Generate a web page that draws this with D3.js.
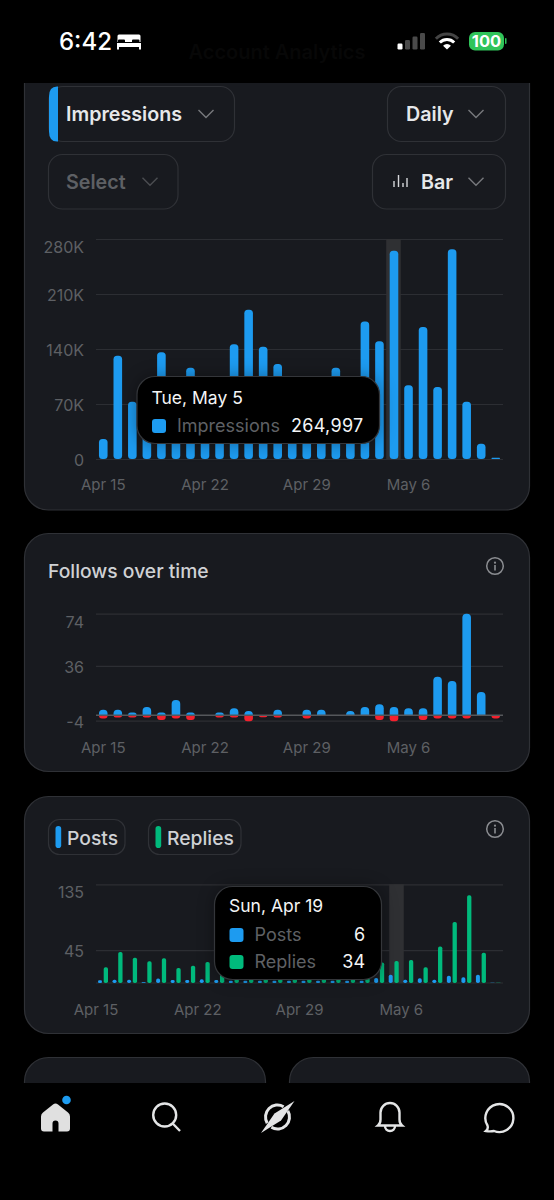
<!DOCTYPE html>
<html>
<head>
<meta charset="utf-8">
<script src="https://cdn.jsdelivr.net/npm/d3@7"></script>
<style>
html, body { margin: 0; padding: 0; background: #000; }
svg { display: block; }
text { font-family: Inter, "Noto Sans", sans-serif; }
</style>
</head>
<body>
<svg id="chart"></svg>
<script>
var width = 554;
var height = 1200;

// Apr 15 .. May 12
var days = ['Apr 15','Apr 16','Apr 17','Apr 18','Apr 19','Apr 20','Apr 21','Apr 22','Apr 23','Apr 24',
    'Apr 25','Apr 26','Apr 27','Apr 28','Apr 29','Apr 30','May 1','May 2','May 3','May 4',
    'May 5','May 6','May 7','May 8','May 9','May 10','May 11','May 12'];
var tickDays = ['Apr 15','Apr 22','Apr 29','May 6'];

// values behind the tooltips are estimates
var impressions = [25500,131500,73000,60000,136000,70000,116000,60000,70000,146000,
    190000,143000,121000,60000,70000,55000,116000,60000,175000,150000,
    264997,94000,168000,91600,267000,73000,19500,1700];
var impressionTicks = [0,70000,140000,210000,280000];

var followsGained = [4,4,2,6,2,11,2,0,2,5,3,0,4,0,4,4,0,3,6,8,6,5,5,28,25,74,17,0];
var followsLost = [-2.4,-1.7,-1.7,-1.7,-3.4,-2.4,-3.4,0,-1.7,-1.7,-4.4,-1.5,-1.7,0,-2.4,0,0,0,0,-3.4,-4.4,0,-3.4,-2.4,-2.4,-2.4,0,-2.4];
var followTicks = [-4,36,74];

var posts = [3.6,4.5,4.5,1,6,4,4,5,4,3,3,3,3,3,3,3,3,3,3,7,11.4,4.5,6.4,4.5,10,8,11.4,0.5];
var replies = [21.5,42.5,34.7,29.7,34,20.5,23.7,28.8,30,22,20,24,22,20,24,20,22,20,22,28,30,31.5,21.5,50,83.6,120,41.5,0.5];
var contentTicks = [45,135];

var BLUE = '#1d9bf0', RED = '#f4212e', GREEN = '#00ba7c';
var CARD = '#181a1f', LINE = '#2f3136', MUTED = '#5e6064', SOFT = '#cfd1d4';

var svg = d3.select('#chart').attr('width', width).attr('height', height);
svg.append('rect').attr('width', width).attr('height', height).attr('fill', '#000');

var x = d3.scaleBand().domain(days).range([96, 503]);

// ----- cards
function card(xx, y, w, h) {
    svg.append('rect').attr('x', xx).attr('y', y).attr('width', w).attr('height', h)
        .attr('rx', 24).attr('fill', CARD).attr('stroke', LINE).attr('stroke-width', 1.2);
}
card(24.5, 40, 505, 470);
card(24.5, 533.5, 505, 238);
card(24.5, 796.5, 505, 237);
card(24.5, 1057.5, 241, 80);
card(289.5, 1057.5, 240, 80);

// header and tab bar sit over the cards
svg.append('rect').attr('width', width).attr('height', 83).attr('fill', '#000');
svg.append('rect').attr('y', 1083).attr('width', width).attr('height', 117).attr('fill', '#000');
svg.append('text').attr('x', 277).attr('y', 59).attr('text-anchor', 'middle')
    .attr('font-size', 20).attr('font-weight', 600).attr('fill', '#070707').text('Account Analytics');

// ----- status bar
svg.append('text').attr('x', 59).attr('y', 49.5).attr('font-size', 24).attr('font-weight', 500)
    .attr('fill', '#fff').text('6:42');
svg.append('path').attr('fill', '#fff')
    .attr('d', 'M119 34.5h20a1.5 1.5 0 0 1 1.5 1.5v6h-1v-1.5q0-1-1-1h-5.5q-1 0-1 1v1.5h-7v-1.5q0-1-1-1h-5q-1 0-1 1v1.5h-.5v-6a1.5 1.5 0 0 1 1.5-1.5zM117 43h24v6.5h-2v-2.5h-20v2.5h-2z');
[[397.5, 43.5, 5, 6, '#fff'], [405, 40, 5, 9.5, '#4a4a4a'], [412.5, 36.5, 5, 13, '#4a4a4a'], [420, 33, 5, 16.5, '#4a4a4a']]
    .forEach(function(b) {
        svg.append('rect').attr('x', b[0]).attr('y', b[1]).attr('width', b[2]).attr('height', b[3])
            .attr('rx', 1.2).attr('fill', b[4]);
    });
[[17, '#444'], [11.5, '#fff']].forEach(function(w) {
    var arc = d3.arc().innerRadius(w[0] - 3).outerRadius(w[0]).startAngle(-0.8).endAngle(0.8);
    svg.append('path').attr('transform', 'translate(447,49.5)').attr('fill', w[1]).attr('d', arc());
});
svg.append('path').attr('transform', 'translate(447,49.5)').attr('fill', '#fff')
    .attr('d', d3.arc().innerRadius(0).outerRadius(5.5).startAngle(-0.8).endAngle(0.8)());
svg.append('rect').attr('x', 469).attr('y', 32).attr('width', 35).attr('height', 18.5).attr('rx', 6).attr('fill', '#30c45a');
svg.append('rect').attr('x', 505).attr('y', 38).attr('width', 1.5).attr('height', 6).attr('rx', 0.7).attr('fill', '#30c45a');
svg.append('text').attr('x', 486.5).attr('y', 47.3).attr('text-anchor', 'middle').attr('font-size', 16.5)
    .attr('font-weight', 700).attr('fill', '#fff').text('100');

// ----- dropdowns
function chevron(cx, cy, col) {
    svg.append('path').attr('d', 'M' + (cx - 7.5) + ' ' + (cy - 4) + 'L' + cx + ' ' + (cy + 3.5) + 'L' + (cx + 7.5) + ' ' + (cy - 4))
        .attr('fill', 'none').attr('stroke', col).attr('stroke-width', 1.4);
}
function dropdown(x0, x1, y0, y1, label, tx, cx, col) {
    svg.append('rect').attr('x', x0).attr('y', y0).attr('width', x1 - x0).attr('height', y1 - y0)
        .attr('rx', 14).attr('fill', 'none').attr('stroke', LINE).attr('stroke-width', 1.2);
    svg.append('text').attr('x', tx).attr('y', (y0 + y1) / 2 + 7).attr('font-size', 19.7).attr('font-weight', 600)
        .attr('fill', col).text(label);
    chevron(cx, (y0 + y1) / 2, col === MUTED ? '#4c4e52' : '#77797d');
}
dropdown(49, 234.5, 86.5, 141.5, 'Impressions', 66, 206, '#e6e8ea');
svg.append('path').attr('fill', BLUE)
    .attr('d', 'M58 86.5v55h-1q-8 0-8-10v-35q0-10 8-10z');
dropdown(387.5, 505.5, 86.5, 141.5, 'Daily', 406, 476, '#e6e8ea');
dropdown(48.5, 178, 154.5, 209, 'Select', 66, 150, MUTED);
dropdown(372.5, 505.5, 154.5, 209, 'Bar', 421, 476, '#e6e8ea');
[[394, 181, 187], [398.5, 175, 187], [403, 183, 187], [407, 178, 187]].forEach(function(b) {
    svg.append('line').attr('x1', b[0]).attr('x2', b[0]).attr('y1', b[1]).attr('y2', b[2])
        .attr('stroke', '#d5d7da').attr('stroke-width', 1.4);
});

// ----- axes
function fmtK(d) { return d === 0 ? '0' : (d / 1000) + 'K'; }

function drawYAxis(y, ticks, fmt) {
    var top = d3.max(ticks);
    var g = svg.append('g').attr('transform', 'translate(96,0)')
        .call(d3.axisLeft(y).tickValues(ticks).tickSize(-407).tickPadding(12).tickFormat(fmt));
    g.select('.domain').remove();
    g.selectAll('line').attr('stroke', '#2c2e33').attr('stroke-width', 1.2);
    g.selectAll('text').attr('fill', MUTED).attr('font-size', 16)
        .attr('dy', function(d) { return d === top ? 13.5 : 6.3; });
}

function drawXAxis(yPos, shift) {
    var g = svg.append('g').attr('transform', 'translate(' + shift + ',' + yPos + ')')
        .call(d3.axisBottom(x).tickValues(tickDays).tickSize(0).tickPadding(0));
    g.select('.domain').remove();
    g.selectAll('text').attr('fill', MUTED).attr('font-size', 15).attr('dy', 0);
}

// top rounded / bottom rounded bars
function barUp(xx, yy, w, base, r) {
    r = Math.min(r, (base - yy));
    return 'M' + xx + ' ' + base + 'V' + (yy + r) + 'Q' + xx + ' ' + yy + ' ' + (xx + r) + ' ' + yy +
        'H' + (xx + w - r) + 'Q' + (xx + w) + ' ' + yy + ' ' + (xx + w) + ' ' + (yy + r) + 'V' + base + 'Z';
}
function barDown(xx, yy, w, base, r) {
    r = Math.min(r, (yy - base));
    return 'M' + xx + ' ' + base + 'V' + (yy - r) + 'Q' + xx + ' ' + yy + ' ' + (xx + r) + ' ' + yy +
        'H' + (xx + w - r) + 'Q' + (xx + w) + ' ' + yy + ' ' + (xx + w) + ' ' + (yy - r) + 'V' + base + 'Z';
}

// ----- impressions
var yImp = d3.scaleLinear().domain([0, 280000]).range([459, 239]);
drawYAxis(yImp, impressionTicks, fmtK);
drawXAxis(490, 0);
svg.append('rect').attr('x', x('May 5') - 0.5).attr('y', 239).attr('width', x.step()).attr('height', 220).attr('fill', '#2f3033');
svg.append('g').selectAll('rect').data(impressions).join('rect')
    .attr('x', function(d, i) { return x(days[i]) + x.bandwidth() / 2 - 4.3; })
    .attr('y', function(d) { return yImp(d); })
    .attr('width', 8.6)
    .attr('height', function(d) { return yImp(0) - yImp(d); })
    .attr('rx', function(d) { return Math.min(3.5, (yImp(0) - yImp(d)) / 2); })
    .attr('fill', BLUE);

// ----- follows
var yFol = d3.scaleLinear().domain([-4, 74]).range([720.7, 613.7]);
svg.append('text').attr('x', 48).attr('y', 578).attr('font-size', 19.3).attr('font-weight', 500)
    .attr('fill', SOFT).text('Follows over time');
drawYAxis(yFol, followTicks, function(d) { return d; });
followsGained.forEach(function(d, i) {
    if (d > 0) svg.append('path').attr('fill', BLUE)
        .attr('d', barUp(x(days[i]) + x.bandwidth() / 2 - 4.3, yFol(d), 8.6, yFol(0), 4));
});
followsLost.forEach(function(d, i) {
    if (d < 0) svg.append('path').attr('fill', RED)
        .attr('d', barDown(x(days[i]) + x.bandwidth() / 2 - 4.3, yFol(d), 8.6, yFol(0), 3));
});
svg.append('line').attr('x1', 96).attr('x2', 503).attr('y1', yFol(0)).attr('y2', yFol(0))
    .attr('stroke', '#55575b').attr('stroke-width', 1.4);
drawXAxis(753, 0);

// ----- posts and replies
var yCon = d3.scaleLinear().domain([0, 135]).range([983, 884.3]);
drawYAxis(yCon, contentTicks, function(d) { return d; });
svg.append('line').attr('x1', 96).attr('x2', 503).attr('y1', yCon(0)).attr('y2', yCon(0))
    .attr('stroke', '#2c2e33').attr('stroke-width', 1.2);
drawXAxis(1015, -x.step() / 2);
svg.append('rect').attr('x', x('May 5') + 2.5).attr('y', 884.3).attr('width', x.step()).attr('height', 98.7).attr('fill', '#2f3033');
posts.forEach(function(d, i) {
    var h = yCon(0) - yCon(d);
    svg.append('rect').attr('x', x(days[i]) + 2).attr('y', yCon(d)).attr('width', 4).attr('height', h)
        .attr('rx', Math.min(1.8, h / 2)).attr('fill', BLUE);
});
replies.forEach(function(d, i) {
    var h = yCon(0) - yCon(d);
    svg.append('rect').attr('x', x(days[i]) + 7.7).attr('y', yCon(d)).attr('width', 4.3).attr('height', h)
        .attr('rx', Math.min(1.8, h / 2)).attr('fill', GREEN);
});

// legend pills
function pill(x0, x1, label, col) {
    svg.append('rect').attr('x', x0).attr('y', 819.5).attr('width', x1 - x0).attr('height', 35)
        .attr('rx', 11).attr('fill', 'none').attr('stroke', LINE).attr('stroke-width', 1.2);
    svg.append('rect').attr('x', x0 + 7).attr('y', 826).attr('width', 5.7).attr('height', 22)
        .attr('rx', 2.8).attr('fill', col);
    svg.append('text').attr('x', x0 + 18.5).attr('y', 844.5).attr('font-size', 19.3).attr('font-weight', 500)
        .attr('fill', SOFT).text(label);
}
pill(48.5, 125, 'Posts', BLUE);
pill(148.5, 241, 'Replies', GREEN);

// info icons
[566, 829].forEach(function(cy) {
    svg.append('circle').attr('cx', 495).attr('cy', cy).attr('r', 8.3)
        .attr('fill', 'none').attr('stroke', '#8b8d91').attr('stroke-width', 1.5);
    svg.append('circle').attr('cx', 495).attr('cy', cy - 3.3).attr('r', 1.1).attr('fill', '#8b8d91');
    svg.append('rect').attr('x', 494.2).attr('y', cy - 1).attr('width', 1.6).attr('height', 5.5).attr('fill', '#8b8d91');
});

// ----- tooltips
function tooltip(x0, x1, y0, y1, title, rows, titleY, rowY) {
    var g = svg.append('g');
    g.append('rect').attr('x', x0).attr('y', y0).attr('width', x1 - x0).attr('height', y1 - y0).attr('rx', 18)
        .attr('fill', '#000').attr('stroke', '#34363a').attr('stroke-width', 1.2)
        .style('filter', 'drop-shadow(0 0 8px rgba(0,0,0,0.35))');
    g.append('text').attr('x', x0 + 14.5).attr('y', titleY).attr('font-size', 17.5).attr('fill', '#f4f5f6').text(title);
    rows.forEach(function(r, i) {
        var cy = rowY + i * 27;
        g.append('rect').attr('x', x0 + 15).attr('y', cy - 7).attr('width', 14).attr('height', 14).attr('rx', 3).attr('fill', r[2]);
        g.append('text').attr('x', x0 + 40).attr('y', cy + 6.3).attr('font-size', 18).attr('fill', '#5f6165').text(r[0]);
        g.append('text').attr('x', x1 - 16).attr('y', cy + 6.3).attr('text-anchor', 'end').attr('font-size', 18)
            .attr('letter-spacing', 0.3).attr('fill', '#f4f5f6').text(r[1]);
    });
}
tooltip(137, 379.5, 376.5, 443.5, 'Tue, May 5', [['Impressions', d3.format(',')(impressions[20]), BLUE]], 403.5, 426);
tooltip(214.5, 381.5, 886.5, 979.5, 'Sun, Apr 19', [['Posts', posts[4], BLUE], ['Replies', replies[4], GREEN]], 911.5, 935);

// ----- tab bar icons
var nav = svg.append('g').attr('fill', 'none').attr('stroke', '#e4e5e6').attr('stroke-width', 2.4);
nav.append('path').attr('fill', '#e0e0e0').attr('stroke', 'none')
    .attr('d', 'M53 1104.5q2.5-2 5 0l10 8q2 1.5 2 4v12q0 3-3 3h-8.5v-8a3 3 0 0 0-6 0v8h-8.5q-3 0-3-3v-12q0-2.5 2-4z');
svg.append('circle').attr('cx', 66.5).attr('cy', 1100).attr('r', 4.3).attr('fill', BLUE);
nav.append('circle').attr('cx', 164.7).attr('cy', 1115).attr('r', 11.5);
nav.append('line').attr('x1', 172.7).attr('y1', 1123.5).attr('x2', 180).attr('y2', 1131);
var needleGap = 0.25;
[[Math.PI / 4 + needleGap, 5 * Math.PI / 4 - needleGap], [5 * Math.PI / 4 + needleGap, 9 * Math.PI / 4 - needleGap]].forEach(function(a) {
    svg.append('path').attr('transform', 'translate(277.5,1117)').attr('fill', '#e4e5e6')
        .attr('d', d3.arc().innerRadius(10.5).outerRadius(13.5).startAngle(a[0]).endAngle(a[1])());
});
svg.append('path').attr('fill', '#e4e5e6').attr('d', 'M294.5 1101L281 1120.5L261 1133L274.5 1113.5Z');
nav.append('path').attr('d', 'M378 1125.5q2.5-2 2.5-6v-7a9.5 9.5 0 0 1 19 0v7q0 4 2.5 6zM385 1126a5 5 0 0 0 10 0');
nav.append('path').attr('d', 'M486 1131q2.5-2 1.5-5.5a14 14 0 1 1 6.5 5.5q-4 0.8-8 0z');
</script>
</body>
</html>
